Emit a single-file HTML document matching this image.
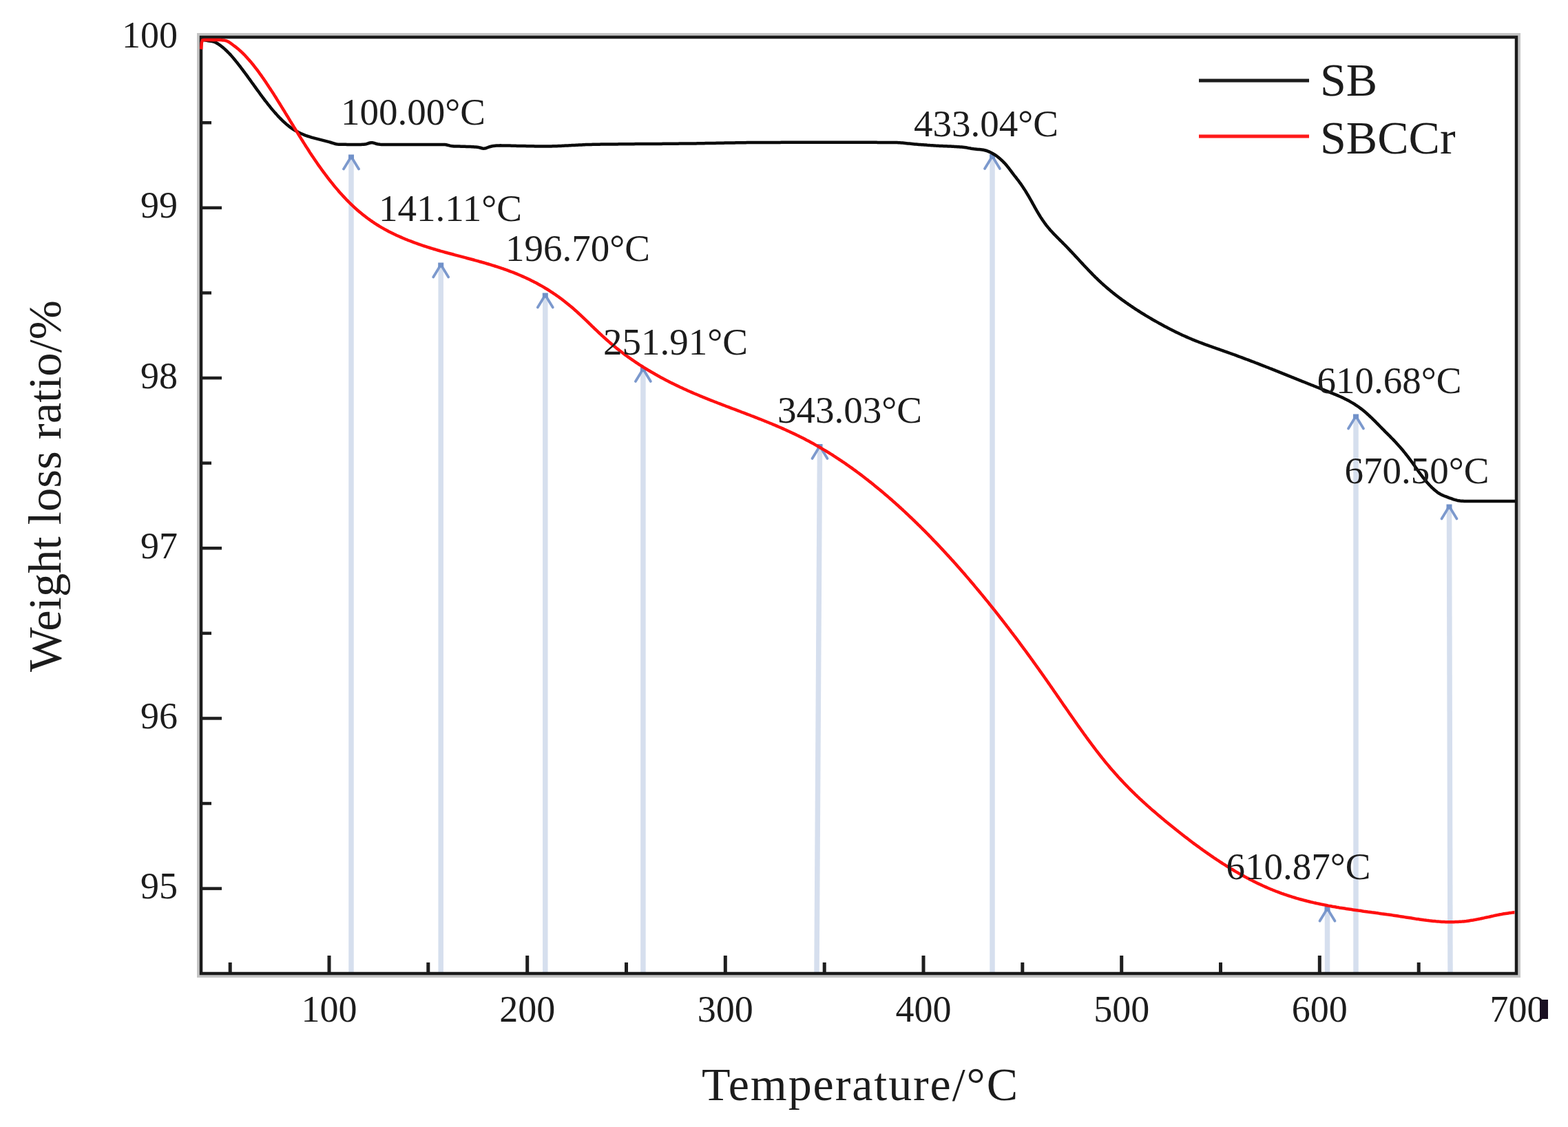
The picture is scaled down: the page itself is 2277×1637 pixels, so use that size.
<!DOCTYPE html>
<html lang="en"><head><meta charset="utf-8"><title>TG curves of SB and SBCCr</title>
<style>html,body{margin:0;padding:0;background:#fff;}body{width:2277px;height:1637px;overflow:hidden;}svg{display:block;}text{font-family:"Liberation Serif","Times New Roman",serif;fill:#1c1c1c;}</style></head><body>
<svg width="2277" height="1637" viewBox="0 0 2277 1637">
<rect width="2277" height="1637" fill="#fff"/>
<g id="arrows">
<path d="M510,230.5 L510,1412" stroke="#d6dfee" stroke-width="7.5" fill="none"/>
<path d="M499,245.5 L510,227.5 L521,245.5" stroke="#7c99cd" stroke-width="3.8" fill="none" stroke-linejoin="round" stroke-linecap="round"/>
<rect x="506" y="224.5" width="8" height="7" fill="#7191c9"/>
<path d="M640.2,387.5 L640.2,1412" stroke="#d6dfee" stroke-width="7.5" fill="none"/>
<path d="M629.2,402.5 L640.2,384.5 L651.2,402.5" stroke="#7c99cd" stroke-width="3.8" fill="none" stroke-linejoin="round" stroke-linecap="round"/>
<rect x="636.2" y="381.5" width="8" height="7" fill="#7191c9"/>
<path d="M791.8,431.5 L791.8,1412" stroke="#d6dfee" stroke-width="7.5" fill="none"/>
<path d="M780.8,446.5 L791.8,428.5 L802.8,446.5" stroke="#7c99cd" stroke-width="3.8" fill="none" stroke-linejoin="round" stroke-linecap="round"/>
<rect x="787.8" y="425.5" width="8" height="7" fill="#7191c9"/>
<path d="M933.9,539 L933.9,1412" stroke="#d6dfee" stroke-width="7.5" fill="none"/>
<path d="M922.9,554 L933.9,536 L944.9,554" stroke="#7c99cd" stroke-width="3.8" fill="none" stroke-linejoin="round" stroke-linecap="round"/>
<rect x="929.9" y="533" width="8" height="7" fill="#7191c9"/>
<path d="M1190.5,651 L1186,1412" stroke="#d6dfee" stroke-width="7.5" fill="none"/>
<path d="M1179.5,666 L1190.5,648 L1201.5,666" stroke="#7c99cd" stroke-width="3.8" fill="none" stroke-linejoin="round" stroke-linecap="round"/>
<rect x="1186.5" y="645" width="8" height="7" fill="#7191c9"/>
<path d="M1441,230 L1441,1412" stroke="#d6dfee" stroke-width="7.5" fill="none"/>
<path d="M1430,245 L1441,227 L1452,245" stroke="#7c99cd" stroke-width="3.8" fill="none" stroke-linejoin="round" stroke-linecap="round"/>
<rect x="1437" y="224" width="8" height="7" fill="#7191c9"/>
<path d="M1969,607.5 L1969,1412" stroke="#d6dfee" stroke-width="7.5" fill="none"/>
<path d="M1958,622.5 L1969,604.5 L1980,622.5" stroke="#7c99cd" stroke-width="3.8" fill="none" stroke-linejoin="round" stroke-linecap="round"/>
<rect x="1965" y="601.5" width="8" height="7" fill="#7191c9"/>
<path d="M2104.5,738.5 L2106,1412" stroke="#d6dfee" stroke-width="7.5" fill="none"/>
<path d="M2093.5,753.5 L2104.5,735.5 L2115.5,753.5" stroke="#7c99cd" stroke-width="3.8" fill="none" stroke-linejoin="round" stroke-linecap="round"/>
<rect x="2100.5" y="732.5" width="8" height="7" fill="#7191c9"/>
<path d="M1927.5,1322.7 L1927.5,1412" stroke="#d6dfee" stroke-width="7.5" fill="none"/>
<path d="M1916.5,1337.7 L1927.5,1319.7 L1938.5,1337.7" stroke="#7c99cd" stroke-width="3.8" fill="none" stroke-linejoin="round" stroke-linecap="round"/>
<rect x="1923.5" y="1316.7" width="8" height="7" fill="#7191c9"/>
</g>
<g id="ticks" fill="#1e1e1e">
<rect x="331.7" y="1398" width="5" height="16"/>
<rect x="475.5" y="1388" width="5" height="26"/>
<rect x="619.3" y="1398" width="5" height="16"/>
<rect x="763.2" y="1388" width="5" height="26"/>
<rect x="907" y="1398" width="5" height="16"/>
<rect x="1050.8" y="1388" width="5" height="26"/>
<rect x="1194.7" y="1398" width="5" height="16"/>
<rect x="1338.5" y="1388" width="5" height="26"/>
<rect x="1482.3" y="1398" width="5" height="16"/>
<rect x="1626.2" y="1388" width="5" height="26"/>
<rect x="1770" y="1398" width="5" height="16"/>
<rect x="1913.8" y="1388" width="5" height="26"/>
<rect x="2057.7" y="1398" width="5" height="16"/>
<rect x="292" y="176" width="15" height="4.5"/>
<rect x="292" y="299.6" width="30" height="4.5"/>
<rect x="292" y="423.2" width="15" height="4.5"/>
<rect x="292" y="546.8" width="30" height="4.5"/>
<rect x="292" y="670.4" width="15" height="4.5"/>
<rect x="292" y="794" width="30" height="4.5"/>
<rect x="292" y="917.6" width="15" height="4.5"/>
<rect x="292" y="1041.2" width="30" height="4.5"/>
<rect x="292" y="1164.8" width="15" height="4.5"/>
<rect x="292" y="1288.4" width="30" height="4.5"/>
</g>
<g id="frame">
<rect x="288" y="50" width="1918" height="1368" fill="none" stroke="#c4c4c4" stroke-width="4"/>
<rect x="292" y="54" width="1910" height="1360" fill="none" stroke="#1a1a1a" stroke-width="4.5"/>
</g>
<path id="sb" d="M293.9,57.7 L295.1,57.9 L296.6,58.3 L298.4,58.6 L300.3,58.9 L302.2,59.2 L304.2,59.5 L306.1,59.7 L308.1,60.1 L310,60.6 L311.9,61.2 L313.7,62 L315.4,63 L317.1,64 L318.7,65.2 L320.3,66.3 L321.9,67.6 L323.5,68.8 L325,70.1 L326.5,71.4 L328,72.8 L329.4,74.2 L330.8,75.6 L332.2,77 L333.6,78.4 L335,79.9 L336.3,81.4 L337.6,82.9 L338.9,84.4 L340.2,86 L341.5,87.5 L342.7,89.1 L344,90.6 L345.2,92.2 L346.5,93.8 L347.7,95.3 L348.9,96.9 L350.1,98.5 L351.3,100.1 L352.5,101.7 L353.7,103.3 L354.9,104.9 L356.1,106.5 L357.3,108.1 L358.5,109.7 L359.7,111.4 L360.8,113 L362,114.6 L363.2,116.2 L364.3,117.8 L365.5,119.5 L366.7,121.1 L367.9,122.7 L369,124.3 L370.2,125.9 L371.4,127.6 L372.5,129.2 L373.7,130.8 L374.9,132.4 L376.1,134 L377.3,135.7 L378.4,137.3 L379.6,138.9 L380.8,140.5 L382,142.1 L383.2,143.7 L384.4,145.3 L385.6,146.9 L386.9,148.4 L388.1,150 L389.3,151.6 L390.6,153.2 L391.8,154.7 L393.1,156.3 L394.3,157.8 L395.6,159.4 L396.9,160.9 L398.2,162.4 L399.5,163.9 L400.9,165.4 L402.2,166.9 L403.5,168.4 L404.9,169.8 L406.3,171.3 L407.7,172.7 L409.1,174.1 L410.5,175.5 L412,176.9 L413.5,178.2 L415,179.6 L416.5,180.9 L418,182.1 L419.6,183.4 L421.2,184.6 L422.8,185.8 L424.4,186.9 L426.1,188 L427.8,189 L429.5,190.1 L431.3,191 L433,192 L434.8,192.9 L436.6,193.7 L438.4,194.5 L440.3,195.3 L442.1,196.1 L444,196.8 L445.9,197.5 L447.8,198.1 L449.7,198.7 L451.6,199.3 L453.5,199.9 L455.4,200.4 L457.4,200.9 L459.3,201.4 L461.2,201.9 L463.2,202.4 L465.1,202.9 L467.1,203.4 L469,203.9 L470.9,204.4 L472.9,204.9 L474.8,205.4 L476.7,205.9 L478.7,206.4 L480.6,207 L482.5,207.6 L484.4,208.2 L486.3,208.8 L488.2,209.2 L490.2,209.5 L492.1,209.7 L494.1,209.8 L496.1,209.8 L498.1,209.8 L500.1,209.8 L502.1,209.8 L504.1,209.9 L506.1,209.9 L508.1,209.9 L510.1,209.9 L512.1,209.9 L514.1,209.9 L516.1,209.9 L518.1,209.9 L520.1,209.9 L522.1,209.9 L524.1,209.9 L526.1,209.8 L528.1,209.8 L530,209.5 L531.9,209.2 L533.7,208.6 L535.5,208 L537.3,207.5 L539,207.2 L540.8,207.3 L542.6,207.6 L544.4,208.2 L546.3,208.8 L548.2,209.3 L550.1,209.6 L552,209.8 L554,209.9 L556,209.9 L558,209.9 L560,209.9 L562,209.9 L564,209.9 L566,209.9 L568,209.9 L570,209.9 L572,209.9 L574,209.9 L576,209.9 L578,209.9 L580,209.9 L582,209.9 L584,209.9 L586,209.9 L588,209.9 L590,209.9 L592,209.9 L594,209.9 L596,209.9 L598,209.9 L600,209.9 L602,209.9 L604,209.9 L606,209.9 L608,209.9 L610,209.9 L612,209.9 L614,209.9 L616,209.9 L618,209.9 L620,209.9 L622,209.9 L624,209.9 L626,209.9 L628,209.9 L630,209.9 L632,209.9 L634,209.9 L636,209.9 L638,209.9 L640,209.9 L642,209.9 L644,210 L645.9,210.1 L647.9,210.3 L649.7,210.7 L651.6,211.1 L653.4,211.6 L655.3,212 L657.2,212.2 L659.2,212.4 L661.2,212.5 L663.2,212.5 L665.2,212.6 L667.2,212.6 L669.2,212.7 L671.2,212.7 L673.2,212.8 L675.2,212.8 L677.2,212.9 L679.2,213 L681.2,213 L683.2,213.1 L685.2,213.2 L687.2,213.3 L689.2,213.5 L691.1,213.6 L693.1,213.8 L695.1,214.1 L697,214.5 L698.8,215 L700.5,215.5 L702.3,215.7 L704,215.6 L705.7,215.2 L707.4,214.5 L709.2,213.8 L711,213.2 L712.9,212.7 L714.9,212.3 L716.8,211.9 L718.8,211.7 L720.8,211.5 L722.8,211.4 L724.8,211.4 L726.8,211.3 L728.8,211.4 L730.8,211.4 L732.8,211.4 L734.8,211.5 L736.8,211.5 L738.8,211.6 L740.8,211.6 L742.8,211.7 L744.8,211.7 L746.8,211.8 L748.8,211.8 L750.8,211.9 L752.8,211.9 L754.8,212 L756.8,212 L758.8,212.1 L760.8,212.1 L762.8,212.1 L764.8,212.2 L766.8,212.2 L768.8,212.2 L770.8,212.3 L772.8,212.3 L774.8,212.3 L776.8,212.4 L778.8,212.4 L780.8,212.4 L782.8,212.4 L784.8,212.5 L786.8,212.5 L788.8,212.5 L790.8,212.5 L792.8,212.5 L794.8,212.5 L796.8,212.5 L798.8,212.4 L800.8,212.4 L802.8,212.3 L804.8,212.3 L806.8,212.2 L808.8,212.2 L810.8,212.1 L812.8,212 L814.8,211.9 L816.7,211.8 L818.7,211.7 L820.7,211.6 L822.7,211.5 L824.7,211.4 L826.7,211.3 L828.7,211.2 L830.7,211.1 L832.7,211 L834.7,210.9 L836.7,210.8 L838.7,210.7 L840.7,210.6 L842.7,210.5 L844.7,210.4 L846.7,210.3 L848.7,210.2 L850.7,210.1 L852.7,210.1 L854.7,210 L856.7,209.9 L858.7,209.9 L860.7,209.8 L862.7,209.8 L864.7,209.8 L866.7,209.7 L868.7,209.7 L870.7,209.7 L872.7,209.6 L874.7,209.6 L876.7,209.6 L878.7,209.6 L880.7,209.5 L882.7,209.5 L884.7,209.5 L886.7,209.5 L888.7,209.4 L890.7,209.4 L892.7,209.4 L894.7,209.4 L896.7,209.4 L898.7,209.3 L900.7,209.3 L902.7,209.3 L904.7,209.3 L906.7,209.3 L908.7,209.2 L910.7,209.2 L912.7,209.2 L914.7,209.2 L916.7,209.2 L918.7,209.2 L920.7,209.2 L922.7,209.1 L924.7,209.1 L926.7,209.1 L928.7,209.1 L930.7,209.1 L932.7,209.1 L934.7,209 L936.7,209 L938.7,209 L940.7,209 L942.7,209 L944.7,209 L946.7,209 L948.7,208.9 L950.7,208.9 L952.7,208.9 L954.7,208.9 L956.7,208.9 L958.7,208.9 L960.7,208.9 L962.7,208.8 L964.7,208.8 L966.7,208.8 L968.7,208.8 L970.7,208.8 L972.7,208.8 L974.7,208.8 L976.7,208.7 L978.7,208.7 L980.7,208.7 L982.7,208.7 L984.7,208.7 L986.7,208.6 L988.7,208.6 L990.7,208.6 L992.7,208.6 L994.7,208.6 L996.7,208.5 L998.7,208.5 L1000.7,208.5 L1002.7,208.5 L1004.7,208.4 L1006.7,208.4 L1008.7,208.4 L1010.7,208.4 L1012.7,208.3 L1014.7,208.3 L1016.7,208.3 L1018.7,208.2 L1020.7,208.2 L1022.7,208.2 L1024.7,208.1 L1026.7,208.1 L1028.7,208.1 L1030.7,208 L1032.7,208 L1034.7,207.9 L1036.7,207.9 L1038.7,207.9 L1040.7,207.8 L1042.7,207.8 L1044.7,207.8 L1046.7,207.7 L1048.7,207.7 L1050.7,207.7 L1052.7,207.6 L1054.7,207.6 L1056.7,207.5 L1058.7,207.5 L1060.7,207.5 L1062.7,207.4 L1064.7,207.4 L1066.7,207.4 L1068.7,207.3 L1070.7,207.3 L1072.7,207.3 L1074.7,207.3 L1076.7,207.2 L1078.7,207.2 L1080.7,207.2 L1082.7,207.2 L1084.7,207.1 L1086.7,207.1 L1088.7,207.1 L1090.7,207.1 L1092.7,207.1 L1094.7,207 L1096.7,207 L1098.7,207 L1100.7,207 L1102.7,207 L1104.7,207 L1106.7,207 L1108.7,207 L1110.7,206.9 L1112.7,206.9 L1114.7,206.9 L1116.7,206.9 L1118.7,206.9 L1120.7,206.9 L1122.7,206.9 L1124.7,206.9 L1126.7,206.9 L1128.7,206.9 L1130.7,206.9 L1132.7,206.9 L1134.7,206.8 L1136.7,206.8 L1138.7,206.8 L1140.7,206.8 L1142.7,206.8 L1144.7,206.8 L1146.7,206.8 L1148.7,206.8 L1150.7,206.8 L1152.7,206.8 L1154.7,206.8 L1156.7,206.8 L1158.7,206.8 L1160.7,206.8 L1162.7,206.8 L1164.7,206.7 L1166.7,206.7 L1168.7,206.7 L1170.7,206.7 L1172.7,206.7 L1174.7,206.7 L1176.7,206.7 L1178.7,206.7 L1180.7,206.7 L1182.7,206.7 L1184.7,206.7 L1186.7,206.7 L1188.7,206.7 L1190.7,206.7 L1192.7,206.7 L1194.7,206.7 L1196.7,206.7 L1198.7,206.7 L1200.7,206.7 L1202.7,206.7 L1204.7,206.7 L1206.7,206.7 L1208.7,206.7 L1210.7,206.7 L1212.7,206.7 L1214.7,206.7 L1216.7,206.7 L1218.7,206.7 L1220.7,206.7 L1222.7,206.7 L1224.7,206.7 L1226.7,206.7 L1228.7,206.7 L1230.7,206.7 L1232.7,206.7 L1234.7,206.7 L1236.7,206.7 L1238.7,206.7 L1240.7,206.7 L1242.7,206.7 L1244.7,206.7 L1246.7,206.8 L1248.7,206.8 L1250.7,206.8 L1252.7,206.8 L1254.7,206.8 L1256.7,206.8 L1258.7,206.8 L1260.7,206.8 L1262.7,206.8 L1264.7,206.8 L1266.7,206.8 L1268.7,206.8 L1270.7,206.8 L1272.7,206.8 L1274.7,206.9 L1276.7,206.9 L1278.7,206.9 L1280.7,206.9 L1282.7,206.9 L1284.7,206.9 L1286.7,206.9 L1288.7,206.9 L1290.7,206.9 L1292.7,207 L1294.7,207 L1296.7,207 L1298.7,207 L1300.7,207.1 L1302.7,207.1 L1304.7,207.2 L1306.7,207.3 L1308.7,207.4 L1310.7,207.6 L1312.7,207.8 L1314.6,208 L1316.6,208.2 L1318.6,208.4 L1320.6,208.6 L1322.6,208.8 L1324.6,209 L1326.6,209.2 L1328.6,209.4 L1330.6,209.5 L1332.6,209.7 L1334.6,209.9 L1336.5,210 L1338.5,210.2 L1340.5,210.3 L1342.5,210.5 L1344.5,210.6 L1346.5,210.8 L1348.5,210.9 L1350.5,211.1 L1352.5,211.2 L1354.5,211.3 L1356.5,211.4 L1358.5,211.6 L1360.5,211.7 L1362.5,211.8 L1364.5,211.9 L1366.5,212 L1368.5,212.1 L1370.5,212.2 L1372.5,212.2 L1374.5,212.3 L1376.5,212.4 L1378.5,212.5 L1380.5,212.6 L1382.5,212.7 L1384.5,212.8 L1386.5,212.9 L1388.5,213 L1390.5,213.2 L1392.4,213.3 L1394.4,213.5 L1396.4,213.6 L1398.4,213.8 L1400.4,214 L1402.4,214.3 L1404.4,214.6 L1406.3,215 L1408.3,215.3 L1410.3,215.7 L1412.2,216 L1414.2,216.3 L1416.2,216.5 L1418.2,216.7 L1420.2,216.9 L1422.2,217.1 L1424.2,217.3 L1426.1,217.5 L1428.1,217.8 L1430,218.2 L1432,218.7 L1433.8,219.4 L1435.7,220.1 L1437.5,220.9 L1439.3,221.8 L1441.1,222.7 L1442.8,223.7 L1444.5,224.7 L1446.2,225.8 L1447.8,227 L1449.4,228.2 L1450.9,229.5 L1452.5,230.8 L1453.9,232.1 L1455.4,233.5 L1456.8,234.9 L1458.2,236.3 L1459.6,237.8 L1460.9,239.3 L1462.2,240.8 L1463.4,242.3 L1464.7,243.9 L1465.9,245.5 L1467.1,247.1 L1468.3,248.7 L1469.5,250.3 L1470.7,251.9 L1471.9,253.5 L1473.1,255.1 L1474.4,256.6 L1475.6,258.2 L1476.8,259.8 L1478.1,261.4 L1479.3,263 L1480.4,264.6 L1481.6,266.2 L1482.8,267.8 L1483.9,269.5 L1485,271.1 L1486.1,272.8 L1487.2,274.5 L1488.3,276.1 L1489.4,277.8 L1490.4,279.5 L1491.5,281.3 L1492.5,283 L1493.5,284.7 L1494.5,286.4 L1495.5,288.2 L1496.5,289.9 L1497.5,291.6 L1498.5,293.4 L1499.4,295.1 L1500.4,296.9 L1501.4,298.6 L1502.3,300.4 L1503.3,302.1 L1504.3,303.8 L1505.3,305.6 L1506.3,307.3 L1507.3,309 L1508.3,310.8 L1509.4,312.5 L1510.4,314.2 L1511.5,315.9 L1512.6,317.5 L1513.7,319.2 L1514.8,320.8 L1516,322.5 L1517.1,324.1 L1518.3,325.7 L1519.5,327.3 L1520.8,328.9 L1522,330.4 L1523.3,331.9 L1524.6,333.5 L1525.9,335 L1527.3,336.4 L1528.6,337.9 L1530,339.4 L1531.4,340.8 L1532.8,342.2 L1534.2,343.7 L1535.6,345.1 L1537,346.5 L1538.4,347.9 L1539.8,349.3 L1541.2,350.7 L1542.7,352.1 L1544.1,353.6 L1545.5,355 L1546.9,356.4 L1548.3,357.8 L1549.7,359.3 L1551.1,360.7 L1552.4,362.2 L1553.8,363.6 L1555.2,365.1 L1556.6,366.5 L1557.9,368 L1559.3,369.4 L1560.6,370.9 L1562,372.4 L1563.4,373.8 L1564.7,375.3 L1566.1,376.8 L1567.4,378.2 L1568.8,379.7 L1570.2,381.2 L1571.5,382.6 L1572.9,384.1 L1574.2,385.6 L1575.6,387 L1577,388.5 L1578.4,389.9 L1579.7,391.4 L1581.1,392.8 L1582.5,394.3 L1583.9,395.7 L1585.3,397.1 L1586.7,398.6 L1588.1,400 L1589.5,401.4 L1590.9,402.8 L1592.4,404.2 L1593.8,405.6 L1595.2,407 L1596.7,408.4 L1598.1,409.7 L1599.6,411.1 L1601.1,412.4 L1602.6,413.8 L1604.1,415.1 L1605.6,416.4 L1607.1,417.7 L1608.6,419 L1610.1,420.3 L1611.7,421.6 L1613.2,422.9 L1614.8,424.1 L1616.3,425.4 L1617.9,426.6 L1619.5,427.9 L1621,429.1 L1622.6,430.3 L1624.2,431.5 L1625.8,432.7 L1627.4,433.9 L1629,435.1 L1630.7,436.3 L1632.3,437.4 L1633.9,438.6 L1635.5,439.8 L1637.2,440.9 L1638.8,442.1 L1640.5,443.2 L1642.1,444.3 L1643.8,445.4 L1645.4,446.6 L1647.1,447.7 L1648.8,448.8 L1650.4,449.9 L1652.1,450.9 L1653.8,452 L1655.5,453.1 L1657.2,454.2 L1658.9,455.2 L1660.6,456.3 L1662.3,457.3 L1664,458.4 L1665.7,459.4 L1667.4,460.4 L1669.1,461.4 L1670.9,462.4 L1672.6,463.5 L1674.3,464.5 L1676.1,465.5 L1677.8,466.4 L1679.5,467.4 L1681.3,468.4 L1683,469.4 L1684.8,470.3 L1686.5,471.3 L1688.3,472.3 L1690,473.2 L1691.8,474.2 L1693.6,475.1 L1695.3,476 L1697.1,476.9 L1698.9,477.9 L1700.7,478.8 L1702.5,479.7 L1704.2,480.6 L1706,481.5 L1707.8,482.4 L1709.6,483.2 L1711.4,484.1 L1713.2,485 L1715,485.8 L1716.8,486.7 L1718.7,487.5 L1720.5,488.3 L1722.3,489.1 L1724.1,489.9 L1726,490.7 L1727.8,491.5 L1729.7,492.3 L1731.5,493.1 L1733.4,493.8 L1735.2,494.6 L1737.1,495.3 L1738.9,496 L1740.8,496.8 L1742.7,497.5 L1744.5,498.2 L1746.4,498.9 L1748.3,499.6 L1750.2,500.3 L1752,501 L1753.9,501.6 L1755.8,502.3 L1757.7,503 L1759.6,503.7 L1761.4,504.3 L1763.3,505 L1765.2,505.7 L1767.1,506.3 L1769,507 L1770.9,507.6 L1772.8,508.3 L1774.7,509 L1776.5,509.6 L1778.4,510.3 L1780.3,511 L1782.2,511.6 L1784.1,512.3 L1786,513 L1787.8,513.7 L1789.7,514.3 L1791.6,515 L1793.5,515.7 L1795.4,516.4 L1797.2,517.1 L1799.1,517.8 L1801,518.5 L1802.9,519.2 L1804.7,519.9 L1806.6,520.6 L1808.5,521.3 L1810.4,522 L1812.2,522.7 L1814.1,523.4 L1816,524.1 L1817.8,524.8 L1819.7,525.5 L1821.6,526.2 L1823.4,527 L1825.3,527.7 L1827.2,528.4 L1829,529.1 L1830.9,529.9 L1832.8,530.6 L1834.6,531.3 L1836.5,532 L1838.3,532.8 L1840.2,533.5 L1842.1,534.2 L1843.9,535 L1845.8,535.7 L1847.6,536.4 L1849.5,537.2 L1851.4,537.9 L1853.2,538.7 L1855.1,539.4 L1856.9,540.1 L1858.8,540.9 L1860.7,541.6 L1862.5,542.4 L1864.4,543.1 L1866.2,543.9 L1868.1,544.6 L1869.9,545.4 L1871.8,546.1 L1873.6,546.8 L1875.5,547.6 L1877.4,548.3 L1879.2,549.1 L1881.1,549.8 L1882.9,550.6 L1884.8,551.3 L1886.6,552.1 L1888.5,552.8 L1890.3,553.6 L1892.2,554.3 L1894.1,555 L1895.9,555.8 L1897.8,556.5 L1899.6,557.3 L1901.5,558 L1903.3,558.8 L1905.2,559.5 L1907.1,560.2 L1908.9,561 L1910.8,561.7 L1912.6,562.5 L1914.5,563.2 L1916.4,563.9 L1918.2,564.7 L1920.1,565.4 L1921.9,566.1 L1923.8,566.9 L1925.7,567.6 L1927.5,568.3 L1929.4,569.1 L1931.2,569.8 L1933.1,570.6 L1934.9,571.3 L1936.8,572.1 L1938.6,572.8 L1940.5,573.6 L1942.3,574.4 L1944.2,575.2 L1946,576 L1947.8,576.8 L1949.6,577.6 L1951.4,578.5 L1953.2,579.4 L1955,580.3 L1956.8,581.2 L1958.5,582.1 L1960.3,583.1 L1962,584.1 L1963.8,585.1 L1965.5,586.1 L1967.2,587.2 L1968.8,588.3 L1970.5,589.4 L1972.1,590.5 L1973.8,591.7 L1975.4,592.9 L1977,594.1 L1978.5,595.3 L1980.1,596.6 L1981.6,597.8 L1983.1,599.1 L1984.7,600.4 L1986.1,601.8 L1987.6,603.1 L1989.1,604.5 L1990.5,605.8 L1992,607.2 L1993.4,608.6 L1994.8,610 L1996.3,611.4 L1997.7,612.8 L1999.1,614.3 L2000.5,615.7 L2001.9,617.1 L2003.3,618.5 L2004.7,620 L2006.1,621.4 L2007.5,622.8 L2008.9,624.2 L2010.3,625.6 L2011.7,627.1 L2013.1,628.5 L2014.6,629.9 L2016,631.3 L2017.4,632.7 L2018.8,634.1 L2020.2,635.6 L2021.6,637 L2023,638.4 L2024.4,639.9 L2025.7,641.3 L2027.1,642.8 L2028.4,644.3 L2029.8,645.8 L2031.1,647.2 L2032.5,648.7 L2033.8,650.3 L2035.1,651.8 L2036.4,653.3 L2037.7,654.8 L2038.9,656.4 L2040.2,657.9 L2041.4,659.5 L2042.7,661.1 L2043.9,662.6 L2045.1,664.2 L2046.3,665.8 L2047.5,667.4 L2048.7,669 L2049.9,670.6 L2051.1,672.2 L2052.3,673.9 L2053.4,675.5 L2054.6,677.1 L2055.7,678.8 L2056.9,680.4 L2058,682 L2059.2,683.7 L2060.3,685.3 L2061.5,686.9 L2062.7,688.5 L2063.9,690.1 L2065.1,691.7 L2066.3,693.3 L2067.6,694.9 L2068.8,696.4 L2070.1,698 L2071.3,699.5 L2072.6,701 L2074,702.5 L2075.3,704 L2076.7,705.5 L2078.1,706.9 L2079.5,708.3 L2081,709.7 L2082.4,711 L2083.9,712.3 L2085.5,713.6 L2087,714.8 L2088.7,716 L2090.4,717.1 L2092.1,718 L2093.9,718.9 L2095.7,719.7 L2097.5,720.5 L2099.4,721.2 L2101.3,721.9 L2103.1,722.6 L2105,723.3 L2106.9,723.9 L2108.8,724.6 L2110.7,725.3 L2112.6,725.9 L2114.5,726.4 L2116.4,726.9 L2118.4,727.2 L2120.4,727.5 L2122.3,727.7 L2124.3,727.8 L2126.3,727.9 L2128.3,727.9 L2130.3,728 L2132.3,728 L2134.3,728 L2136.3,728 L2138.3,728 L2140.3,728 L2142.3,728 L2144.3,728 L2146.3,728 L2148.3,728 L2150.3,728 L2152.3,728 L2154.3,728 L2156.3,728 L2158.3,728 L2160.3,728 L2162.3,728 L2164.3,728 L2166.3,728 L2168.3,728 L2170.3,728 L2172.3,728 L2174.3,728 L2176.3,728 L2178.3,728 L2180.3,728 L2182.3,728 L2184.3,728 L2186.3,728 L2188.3,728 L2190.3,728 L2192.3,728 L2194.3,728 L2196.2,728 L2197.9,728 L2199.4,728 L2200.6,728" fill="none" stroke="#0c0c0c" stroke-width="4.5" stroke-linejoin="round"/>
<path id="sbccr" d="M292.2,71.5 L292.8,62 L294,58.5 L295.6,58 L296.8,58 L298.3,58 L300.1,58 L302,58 L304,58 L306,58 L308,58 L310,58 L312,58 L314,58 L316,58 L318,58.1 L320,58.1 L322,58.2 L324,58.4 L325.9,58.6 L327.8,59.1 L329.7,59.7 L331.4,60.5 L333.1,61.5 L334.7,62.6 L336.3,63.8 L337.9,65 L339.5,66.2 L341.1,67.4 L342.7,68.6 L344.3,69.9 L345.8,71.1 L347.3,72.4 L348.8,73.8 L350.3,75.1 L351.7,76.5 L353.2,77.9 L354.6,79.3 L356,80.8 L357.3,82.2 L358.7,83.7 L360,85.2 L361.4,86.7 L362.7,88.2 L364,89.7 L365.2,91.2 L366.5,92.8 L367.8,94.3 L369,95.9 L370.2,97.5 L371.5,99.1 L372.7,100.6 L373.9,102.2 L375.1,103.8 L376.3,105.5 L377.4,107.1 L378.6,108.7 L379.8,110.3 L380.9,112 L382.1,113.6 L383.2,115.2 L384.3,116.9 L385.5,118.5 L386.6,120.2 L387.7,121.9 L388.8,123.5 L389.9,125.2 L391,126.9 L392.1,128.5 L393.2,130.2 L394.3,131.9 L395.4,133.6 L396.5,135.2 L397.6,136.9 L398.6,138.6 L399.7,140.3 L400.8,142 L401.8,143.7 L402.9,145.4 L403.9,147.1 L405,148.8 L406.1,150.5 L407.1,152.2 L408.2,153.9 L409.2,155.6 L410.3,157.3 L411.3,159 L412.4,160.7 L413.4,162.4 L414.4,164.1 L415.5,165.8 L416.5,167.5 L417.6,169.2 L418.6,170.9 L419.6,172.6 L420.7,174.4 L421.7,176.1 L422.8,177.8 L423.8,179.5 L424.9,181.2 L425.9,182.9 L426.9,184.6 L428,186.3 L429,188 L430.1,189.7 L431.1,191.4 L432.2,193.1 L433.2,194.8 L434.3,196.5 L435.3,198.2 L436.4,199.9 L437.4,201.6 L438.5,203.3 L439.6,205 L440.6,206.7 L441.7,208.4 L442.8,210.1 L443.8,211.8 L444.9,213.5 L446,215.1 L447.1,216.8 L448.2,218.5 L449.2,220.2 L450.3,221.9 L451.4,223.5 L452.5,225.2 L453.6,226.9 L454.8,228.5 L455.9,230.2 L457,231.8 L458.1,233.5 L459.3,235.1 L460.4,236.8 L461.5,238.4 L462.7,240.1 L463.8,241.7 L465,243.3 L466.2,245 L467.3,246.6 L468.5,248.2 L469.7,249.8 L470.9,251.4 L472.1,253 L473.3,254.6 L474.5,256.2 L475.7,257.8 L476.9,259.4 L478.1,261 L479.4,262.5 L480.6,264.1 L481.9,265.7 L483.1,267.2 L484.4,268.8 L485.6,270.3 L486.9,271.9 L488.2,273.4 L489.5,274.9 L490.8,276.4 L492.1,278 L493.4,279.5 L494.8,281 L496.1,282.4 L497.4,283.9 L498.8,285.4 L500.2,286.9 L501.5,288.3 L502.9,289.8 L504.3,291.2 L505.7,292.6 L507.1,294 L508.5,295.4 L510,296.8 L511.4,298.2 L512.9,299.6 L514.3,300.9 L515.8,302.3 L517.3,303.6 L518.8,305 L520.3,306.3 L521.8,307.6 L523.4,308.8 L524.9,310.1 L526.5,311.4 L528,312.6 L529.6,313.8 L531.2,315.1 L532.8,316.3 L534.4,317.5 L536,318.6 L537.6,319.8 L539.3,320.9 L540.9,322.1 L542.6,323.2 L544.2,324.3 L545.9,325.4 L547.6,326.5 L549.3,327.5 L551,328.6 L552.7,329.6 L554.4,330.6 L556.2,331.6 L557.9,332.6 L559.6,333.6 L561.4,334.5 L563.2,335.5 L564.9,336.4 L566.7,337.3 L568.5,338.2 L570.3,339.1 L572.1,340 L573.9,340.8 L575.7,341.7 L577.5,342.5 L579.3,343.3 L581.2,344.1 L583,344.9 L584.8,345.7 L586.7,346.5 L588.5,347.3 L590.4,348 L592.2,348.8 L594.1,349.5 L596,350.2 L597.8,350.9 L599.7,351.6 L601.6,352.3 L603.5,353 L605.3,353.7 L607.2,354.4 L609.1,355 L611,355.7 L612.9,356.3 L614.8,357 L616.7,357.6 L618.6,358.2 L620.5,358.8 L622.4,359.4 L624.3,360 L626.2,360.6 L628.1,361.2 L630,361.8 L632,362.3 L633.9,362.9 L635.8,363.5 L637.7,364 L639.6,364.6 L641.6,365.1 L643.5,365.6 L645.4,366.2 L647.4,366.7 L649.3,367.2 L651.2,367.8 L653.1,368.3 L655.1,368.8 L657,369.3 L658.9,369.8 L660.9,370.4 L662.8,370.9 L664.7,371.4 L666.7,371.9 L668.6,372.4 L670.5,372.9 L672.5,373.4 L674.4,373.9 L676.3,374.4 L678.3,375 L680.2,375.5 L682.1,376 L684.1,376.5 L686,377 L687.9,377.5 L689.9,378.1 L691.8,378.6 L693.7,379.1 L695.6,379.7 L697.6,380.2 L699.5,380.7 L701.4,381.3 L703.3,381.8 L705.3,382.4 L707.2,383 L709.1,383.5 L711,384.1 L712.9,384.7 L714.8,385.3 L716.8,385.9 L718.7,386.5 L720.6,387.1 L722.5,387.7 L724.4,388.3 L726.3,388.9 L728.2,389.6 L730.1,390.2 L731.9,390.9 L733.8,391.5 L735.7,392.2 L737.6,392.9 L739.5,393.6 L741.3,394.3 L743.2,395 L745.1,395.7 L746.9,396.4 L748.8,397.2 L750.6,397.9 L752.5,398.7 L754.3,399.5 L756.2,400.3 L758,401.1 L759.8,401.9 L761.7,402.7 L763.5,403.5 L765.3,404.4 L767.1,405.2 L768.9,406.1 L770.7,407 L772.5,407.9 L774.3,408.8 L776,409.7 L777.8,410.6 L779.6,411.5 L781.3,412.5 L783.1,413.5 L784.8,414.4 L786.6,415.4 L788.3,416.4 L790,417.4 L791.7,418.5 L793.5,419.5 L795.2,420.5 L796.9,421.6 L798.5,422.7 L800.2,423.8 L801.9,424.9 L803.6,426 L805.2,427.1 L806.9,428.2 L808.5,429.4 L810.1,430.5 L811.8,431.7 L813.4,432.9 L815,434 L816.6,435.2 L818.2,436.5 L819.8,437.7 L821.3,438.9 L822.9,440.2 L824.4,441.4 L826,442.7 L827.5,444 L829.1,445.2 L830.6,446.5 L832.1,447.8 L833.6,449.1 L835.1,450.5 L836.6,451.8 L838.1,453.1 L839.6,454.5 L841,455.8 L842.5,457.2 L844,458.6 L845.4,459.9 L846.9,461.3 L848.3,462.7 L849.8,464.1 L851.2,465.4 L852.7,466.8 L854.1,468.2 L855.5,469.6 L857,471 L858.4,472.4 L859.8,473.8 L861.3,475.2 L862.7,476.6 L864.2,478 L865.6,479.3 L867.1,480.7 L868.5,482.1 L870,483.5 L871.4,484.8 L872.9,486.2 L874.3,487.6 L875.8,488.9 L877.3,490.3 L878.8,491.6 L880.3,493 L881.8,494.3 L883.3,495.6 L884.8,496.9 L886.3,498.2 L887.8,499.5 L889.3,500.8 L890.9,502.1 L892.4,503.3 L894,504.6 L895.5,505.9 L897.1,507.1 L898.7,508.3 L900.2,509.6 L901.8,510.8 L903.4,512 L905,513.2 L906.6,514.4 L908.2,515.6 L909.8,516.8 L911.4,518 L913.1,519.1 L914.7,520.3 L916.3,521.4 L918,522.6 L919.6,523.7 L921.3,524.8 L922.9,526 L924.6,527.1 L926.3,528.2 L927.9,529.3 L929.6,530.4 L931.3,531.4 L933,532.5 L934.7,533.6 L936.4,534.6 L938.1,535.7 L939.8,536.7 L941.5,537.8 L943.2,538.8 L944.9,539.8 L946.6,540.8 L948.4,541.8 L950.1,542.8 L951.8,543.8 L953.6,544.8 L955.3,545.8 L957.1,546.8 L958.8,547.7 L960.6,548.7 L962.3,549.6 L964.1,550.6 L965.9,551.5 L967.7,552.4 L969.4,553.3 L971.2,554.2 L973,555.2 L974.8,556.1 L976.6,556.9 L978.4,557.8 L980.2,558.7 L982,559.6 L983.8,560.4 L985.6,561.3 L987.4,562.2 L989.2,563 L991,563.8 L992.8,564.7 L994.6,565.5 L996.5,566.3 L998.3,567.2 L1000.1,568 L1001.9,568.8 L1003.8,569.6 L1005.6,570.4 L1007.4,571.2 L1009.3,572 L1011.1,572.7 L1013,573.5 L1014.8,574.3 L1016.7,575.1 L1018.5,575.8 L1020.4,576.6 L1022.2,577.3 L1024.1,578.1 L1025.9,578.8 L1027.8,579.6 L1029.6,580.3 L1031.5,581.1 L1033.3,581.8 L1035.2,582.5 L1037.1,583.3 L1038.9,584 L1040.8,584.7 L1042.7,585.5 L1044.5,586.2 L1046.4,586.9 L1048.3,587.6 L1050.1,588.3 L1052,589 L1053.9,589.8 L1055.7,590.5 L1057.6,591.2 L1059.5,591.9 L1061.3,592.6 L1063.2,593.3 L1065.1,594 L1066.9,594.7 L1068.8,595.4 L1070.7,596.1 L1072.6,596.8 L1074.4,597.5 L1076.3,598.3 L1078.2,599 L1080,599.7 L1081.9,600.4 L1083.8,601.1 L1085.6,601.8 L1087.5,602.5 L1089.4,603.2 L1091.2,604 L1093.1,604.7 L1095,605.4 L1096.8,606.1 L1098.7,606.8 L1100.6,607.6 L1102.4,608.3 L1104.3,609 L1106.2,609.8 L1108,610.5 L1109.9,611.3 L1111.7,612 L1113.6,612.8 L1115.4,613.5 L1117.3,614.3 L1119.1,615 L1121,615.8 L1122.8,616.6 L1124.7,617.3 L1126.5,618.1 L1128.3,618.9 L1130.2,619.7 L1132,620.5 L1133.9,621.3 L1135.7,622.1 L1137.5,622.9 L1139.3,623.7 L1141.2,624.5 L1143,625.4 L1144.8,626.2 L1146.6,627 L1148.4,627.9 L1150.2,628.7 L1152.1,629.6 L1153.9,630.4 L1155.7,631.3 L1157.5,632.2 L1159.3,633 L1161,633.9 L1162.8,634.8 L1164.6,635.7 L1166.4,636.6 L1168.2,637.5 L1170,638.5 L1171.7,639.4 L1173.5,640.3 L1175.3,641.3 L1177,642.2 L1178.8,643.2 L1180.5,644.1 L1182.3,645.1 L1184,646.1 L1185.8,647.1 L1187.5,648 L1189.2,649 L1191,650 L1192.7,651.1 L1194.4,652.1 L1196.1,653.1 L1197.9,654.1 L1199.6,655.2 L1201.3,656.2 L1203,657.3 L1204.7,658.3 L1206.4,659.4 L1208.1,660.4 L1209.8,661.5 L1211.4,662.6 L1213.1,663.7 L1214.8,664.8 L1216.5,665.9 L1218.1,667 L1219.8,668.1 L1221.5,669.2 L1223.1,670.3 L1224.8,671.4 L1226.4,672.5 L1228.1,673.7 L1229.7,674.8 L1231.4,676 L1233,677.1 L1234.6,678.3 L1236.3,679.4 L1237.9,680.6 L1239.5,681.8 L1241.1,682.9 L1242.7,684.1 L1244.3,685.3 L1245.9,686.5 L1247.6,687.7 L1249.2,688.9 L1250.8,690.1 L1252.3,691.3 L1253.9,692.5 L1255.5,693.7 L1257.1,695 L1258.7,696.2 L1260.3,697.4 L1261.8,698.7 L1263.4,699.9 L1265,701.1 L1266.5,702.4 L1268.1,703.6 L1269.6,704.9 L1271.2,706.2 L1272.7,707.4 L1274.3,708.7 L1275.8,710 L1277.4,711.2 L1278.9,712.5 L1280.4,713.8 L1282,715.1 L1283.5,716.4 L1285,717.7 L1286.5,719 L1288.1,720.3 L1289.6,721.6 L1291.1,722.9 L1292.6,724.2 L1294.1,725.5 L1295.6,726.8 L1297.1,728.2 L1298.6,729.5 L1300.1,730.8 L1301.6,732.2 L1303.1,733.5 L1304.6,734.8 L1306,736.2 L1307.5,737.5 L1309,738.9 L1310.5,740.2 L1311.9,741.6 L1313.4,742.9 L1314.9,744.3 L1316.3,745.7 L1317.8,747 L1319.2,748.4 L1320.7,749.8 L1322.1,751.2 L1323.6,752.5 L1325,753.9 L1326.5,755.3 L1327.9,756.7 L1329.3,758.1 L1330.8,759.5 L1332.2,760.9 L1333.6,762.3 L1335.1,763.7 L1336.5,765.1 L1337.9,766.5 L1339.3,767.9 L1340.7,769.3 L1342.1,770.7 L1343.6,772.2 L1345,773.6 L1346.4,775 L1347.8,776.4 L1349.2,777.9 L1350.6,779.3 L1352,780.7 L1353.4,782.2 L1354.7,783.6 L1356.1,785.1 L1357.5,786.5 L1358.9,787.9 L1360.3,789.4 L1361.7,790.8 L1363,792.3 L1364.4,793.7 L1365.8,795.2 L1367.1,796.7 L1368.5,798.1 L1369.9,799.6 L1371.2,801.1 L1372.6,802.5 L1373.9,804 L1375.3,805.5 L1376.6,806.9 L1378,808.4 L1379.3,809.9 L1380.7,811.4 L1382,812.9 L1383.4,814.3 L1384.7,815.8 L1386,817.3 L1387.4,818.8 L1388.7,820.3 L1390,821.8 L1391.3,823.3 L1392.7,824.8 L1394,826.3 L1395.3,827.8 L1396.6,829.3 L1397.9,830.8 L1399.3,832.3 L1400.6,833.8 L1401.9,835.3 L1403.2,836.9 L1404.5,838.4 L1405.8,839.9 L1407.1,841.4 L1408.4,842.9 L1409.7,844.5 L1411,846 L1412.3,847.5 L1413.6,849 L1414.9,850.6 L1416.1,852.1 L1417.4,853.6 L1418.7,855.2 L1420,856.7 L1421.3,858.2 L1422.5,859.8 L1423.8,861.3 L1425.1,862.9 L1426.4,864.4 L1427.6,865.9 L1428.9,867.5 L1430.2,869 L1431.4,870.6 L1432.7,872.1 L1434,873.7 L1435.2,875.2 L1436.5,876.8 L1437.7,878.4 L1439,879.9 L1440.2,881.5 L1441.5,883 L1442.7,884.6 L1444,886.2 L1445.2,887.7 L1446.5,889.3 L1447.7,890.9 L1448.9,892.4 L1450.2,894 L1451.4,895.6 L1452.6,897.2 L1453.9,898.7 L1455.1,900.3 L1456.3,901.9 L1457.6,903.5 L1458.8,905.1 L1460,906.6 L1461.2,908.2 L1462.4,909.8 L1463.7,911.4 L1464.9,913 L1466.1,914.6 L1467.3,916.2 L1468.5,917.8 L1469.7,919.3 L1470.9,920.9 L1472.1,922.5 L1473.3,924.1 L1474.6,925.7 L1475.8,927.3 L1477,928.9 L1478.2,930.5 L1479.4,932.1 L1480.5,933.7 L1481.7,935.3 L1482.9,936.9 L1484.1,938.6 L1485.3,940.2 L1486.5,941.8 L1487.7,943.4 L1488.9,945 L1490.1,946.6 L1491.2,948.2 L1492.4,949.8 L1493.6,951.4 L1494.8,953.1 L1496,954.7 L1497.1,956.3 L1498.3,957.9 L1499.5,959.5 L1500.6,961.2 L1501.8,962.8 L1503,964.4 L1504.1,966 L1505.3,967.7 L1506.5,969.3 L1507.6,970.9 L1508.8,972.5 L1509.9,974.2 L1511.1,975.8 L1512.3,977.4 L1513.4,979.1 L1514.6,980.7 L1515.7,982.3 L1516.9,984 L1518,985.6 L1519.2,987.2 L1520.3,988.9 L1521.5,990.5 L1522.6,992.2 L1523.8,993.8 L1524.9,995.4 L1526,997.1 L1527.2,998.7 L1528.3,1000.4 L1529.5,1002 L1530.6,1003.7 L1531.7,1005.3 L1532.9,1007 L1534,1008.6 L1535.1,1010.2 L1536.3,1011.9 L1537.4,1013.5 L1538.6,1015.2 L1539.7,1016.8 L1540.8,1018.5 L1542,1020.1 L1543.1,1021.8 L1544.2,1023.4 L1545.4,1025.1 L1546.5,1026.7 L1547.7,1028.3 L1548.8,1030 L1549.9,1031.6 L1551.1,1033.3 L1552.2,1034.9 L1553.3,1036.6 L1554.5,1038.2 L1555.6,1039.8 L1556.8,1041.5 L1557.9,1043.1 L1559.1,1044.8 L1560.2,1046.4 L1561.4,1048 L1562.5,1049.7 L1563.7,1051.3 L1564.8,1052.9 L1566,1054.6 L1567.1,1056.2 L1568.3,1057.8 L1569.5,1059.5 L1570.6,1061.1 L1571.8,1062.7 L1572.9,1064.3 L1574.1,1066 L1575.3,1067.6 L1576.5,1069.2 L1577.6,1070.8 L1578.8,1072.4 L1580,1074.1 L1581.2,1075.7 L1582.4,1077.3 L1583.6,1078.9 L1584.8,1080.5 L1585.9,1082.1 L1587.2,1083.7 L1588.4,1085.3 L1589.6,1086.9 L1590.8,1088.5 L1592,1090.1 L1593.2,1091.6 L1594.4,1093.2 L1595.7,1094.8 L1596.9,1096.4 L1598.1,1098 L1599.4,1099.5 L1600.6,1101.1 L1601.9,1102.6 L1603.1,1104.2 L1604.4,1105.8 L1605.6,1107.3 L1606.9,1108.9 L1608.2,1110.4 L1609.5,1111.9 L1610.8,1113.5 L1612,1115 L1613.3,1116.5 L1614.6,1118 L1616,1119.5 L1617.3,1121 L1618.6,1122.5 L1619.9,1124 L1621.3,1125.5 L1622.6,1127 L1623.9,1128.5 L1625.3,1130 L1626.6,1131.4 L1628,1132.9 L1629.4,1134.4 L1630.7,1135.8 L1632.1,1137.3 L1633.5,1138.7 L1634.9,1140.2 L1636.3,1141.6 L1637.7,1143 L1639.1,1144.5 L1640.5,1145.9 L1641.9,1147.3 L1643.3,1148.7 L1644.7,1150.1 L1646.2,1151.5 L1647.6,1152.9 L1649,1154.3 L1650.5,1155.7 L1651.9,1157.1 L1653.4,1158.4 L1654.8,1159.8 L1656.3,1161.2 L1657.8,1162.5 L1659.2,1163.9 L1660.7,1165.2 L1662.2,1166.6 L1663.7,1167.9 L1665.2,1169.3 L1666.6,1170.6 L1668.1,1171.9 L1669.6,1173.2 L1671.1,1174.6 L1672.6,1175.9 L1674.2,1177.2 L1675.7,1178.5 L1677.2,1179.8 L1678.7,1181.1 L1680.2,1182.4 L1681.7,1183.7 L1683.3,1185 L1684.8,1186.3 L1686.3,1187.6 L1687.9,1188.9 L1689.4,1190.1 L1690.9,1191.4 L1692.5,1192.7 L1694,1194 L1695.6,1195.2 L1697.1,1196.5 L1698.7,1197.8 L1700.2,1199 L1701.8,1200.3 L1703.3,1201.5 L1704.9,1202.8 L1706.4,1204 L1708,1205.3 L1709.6,1206.5 L1711.1,1207.8 L1712.7,1209 L1714.3,1210.3 L1715.9,1211.5 L1717.4,1212.7 L1719,1213.9 L1720.6,1215.2 L1722.2,1216.4 L1723.8,1217.6 L1725.3,1218.8 L1726.9,1220 L1728.5,1221.3 L1730.1,1222.5 L1731.7,1223.7 L1733.3,1224.9 L1734.9,1226.1 L1736.5,1227.2 L1738.1,1228.4 L1739.8,1229.6 L1741.4,1230.8 L1743,1232 L1744.6,1233.1 L1746.2,1234.3 L1747.9,1235.5 L1749.5,1236.6 L1751.1,1237.8 L1752.8,1238.9 L1754.4,1240.1 L1756,1241.2 L1757.7,1242.4 L1759.3,1243.5 L1761,1244.6 L1762.6,1245.8 L1764.3,1246.9 L1766,1248 L1767.6,1249.1 L1769.3,1250.2 L1771,1251.3 L1772.6,1252.4 L1774.3,1253.5 L1776,1254.6 L1777.7,1255.6 L1779.4,1256.7 L1781.1,1257.8 L1782.8,1258.8 L1784.5,1259.9 L1786.2,1260.9 L1787.9,1262 L1789.6,1263 L1791.3,1264 L1793,1265.1 L1794.7,1266.1 L1796.5,1267.1 L1798.2,1268.1 L1799.9,1269.1 L1801.7,1270.1 L1803.4,1271 L1805.2,1272 L1806.9,1273 L1808.7,1273.9 L1810.4,1274.9 L1812.2,1275.8 L1814,1276.8 L1815.7,1277.7 L1817.5,1278.6 L1819.3,1279.5 L1821.1,1280.4 L1822.9,1281.3 L1824.6,1282.2 L1826.4,1283.1 L1828.3,1283.9 L1830.1,1284.8 L1831.9,1285.6 L1833.7,1286.5 L1835.5,1287.3 L1837.3,1288.1 L1839.2,1288.9 L1841,1289.7 L1842.8,1290.5 L1844.7,1291.3 L1846.5,1292 L1848.4,1292.8 L1850.2,1293.5 L1852.1,1294.3 L1854,1295 L1855.8,1295.7 L1857.7,1296.4 L1859.6,1297.1 L1861.5,1297.8 L1863.3,1298.4 L1865.2,1299.1 L1867.1,1299.7 L1869,1300.4 L1870.9,1301 L1872.8,1301.6 L1874.7,1302.2 L1876.6,1302.8 L1878.5,1303.4 L1880.5,1304 L1882.4,1304.6 L1884.3,1305.1 L1886.2,1305.7 L1888.2,1306.2 L1890.1,1306.7 L1892,1307.2 L1893.9,1307.8 L1895.9,1308.3 L1897.8,1308.8 L1899.8,1309.2 L1901.7,1309.7 L1903.6,1310.2 L1905.6,1310.6 L1907.5,1311.1 L1909.5,1311.5 L1911.4,1312 L1913.4,1312.4 L1915.3,1312.8 L1917.3,1313.2 L1919.3,1313.6 L1921.2,1314 L1923.2,1314.4 L1925.1,1314.8 L1927.1,1315.2 L1929.1,1315.6 L1931,1315.9 L1933,1316.3 L1935,1316.7 L1936.9,1317 L1938.9,1317.3 L1940.9,1317.7 L1942.9,1318 L1944.8,1318.4 L1946.8,1318.7 L1948.8,1319 L1950.7,1319.3 L1952.7,1319.6 L1954.7,1319.9 L1956.7,1320.2 L1958.7,1320.5 L1960.6,1320.8 L1962.6,1321.1 L1964.6,1321.4 L1966.6,1321.7 L1968.5,1322 L1970.5,1322.3 L1972.5,1322.6 L1974.5,1322.8 L1976.5,1323.1 L1978.5,1323.4 L1980.4,1323.7 L1982.4,1323.9 L1984.4,1324.2 L1986.4,1324.5 L1988.4,1324.7 L1990.3,1325 L1992.3,1325.3 L1994.3,1325.5 L1996.3,1325.8 L1998.3,1326.1 L2000.3,1326.3 L2002.2,1326.6 L2004.2,1326.9 L2006.2,1327.2 L2008.2,1327.4 L2010.2,1327.7 L2012.1,1328 L2014.1,1328.3 L2016.1,1328.5 L2018.1,1328.8 L2020.1,1329.1 L2022,1329.4 L2024,1329.7 L2026,1330 L2028,1330.3 L2030,1330.6 L2031.9,1330.9 L2033.9,1331.2 L2035.9,1331.5 L2037.9,1331.8 L2039.8,1332.1 L2041.8,1332.4 L2043.8,1332.7 L2045.8,1333 L2047.7,1333.3 L2049.7,1333.6 L2051.7,1333.9 L2053.7,1334.3 L2055.6,1334.6 L2057.6,1334.9 L2059.6,1335.1 L2061.6,1335.4 L2063.6,1335.7 L2065.5,1336 L2067.5,1336.3 L2069.5,1336.5 L2071.5,1336.8 L2073.5,1337 L2075.5,1337.3 L2077.4,1337.5 L2079.4,1337.7 L2081.4,1337.9 L2083.4,1338.1 L2085.4,1338.3 L2087.4,1338.4 L2089.4,1338.6 L2091.4,1338.7 L2093.4,1338.9 L2095.4,1339 L2097.4,1339.1 L2099.4,1339.2 L2101.4,1339.2 L2103.4,1339.3 L2105.4,1339.3 L2107.4,1339.3 L2109.4,1339.2 L2111.4,1339.2 L2113.4,1339.1 L2115.4,1339 L2117.4,1338.9 L2119.4,1338.8 L2121.4,1338.7 L2123.3,1338.6 L2125.3,1338.4 L2127.3,1338.2 L2129.3,1338 L2131.3,1337.7 L2133.3,1337.4 L2135.3,1337.1 L2137.2,1336.8 L2139.2,1336.5 L2141.2,1336.1 L2143.1,1335.8 L2145.1,1335.4 L2147.1,1335 L2149,1334.6 L2151,1334.2 L2152.9,1333.8 L2154.9,1333.4 L2156.8,1332.9 L2158.8,1332.5 L2160.8,1332.1 L2162.7,1331.7 L2164.7,1331.2 L2166.6,1330.8 L2168.6,1330.4 L2170.5,1329.9 L2172.5,1329.5 L2174.4,1329.1 L2176.4,1328.7 L2178.4,1328.3 L2180.3,1328 L2182.3,1327.6 L2184.3,1327.3 L2186.2,1327 L2188.2,1326.7 L2190.2,1326.4 L2192.2,1326.1 L2194.1,1325.9 L2195.9,1325.6 L2197.6,1325.4 L2199,1325.2 L2199.5,1325.2" fill="none" stroke="#ff1010" stroke-width="4.5" stroke-linejoin="round"/>
<path d="M1741,117 H1901" stroke="#1c1c1c" stroke-width="5"/>
<path d="M1741,198 H1901" stroke="#ff1a1a" stroke-width="5"/>
<text x="1917" y="138.5" font-size="68">SB</text>
<text x="1917" y="222.8" font-size="68">SBCCr</text>
<text x="478" y="1484" font-size="54" text-anchor="middle">100</text>
<text x="765.7" y="1484" font-size="54" text-anchor="middle">200</text>
<text x="1053.3" y="1484" font-size="54" text-anchor="middle">300</text>
<text x="1341" y="1484" font-size="54" text-anchor="middle">400</text>
<text x="1628.7" y="1484" font-size="54" text-anchor="middle">500</text>
<text x="1916.3" y="1484" font-size="54" text-anchor="middle">600</text>
<text x="2204" y="1484" font-size="54" text-anchor="middle">700</text>
<text x="258" y="1305.2" font-size="54" text-anchor="end">95</text>
<text x="258" y="1058" font-size="54" text-anchor="end">96</text>
<text x="258" y="810.8" font-size="54" text-anchor="end">97</text>
<text x="258" y="563.6" font-size="54" text-anchor="end">98</text>
<text x="258" y="316.4" font-size="54" text-anchor="end">99</text>
<text x="258" y="69.2" font-size="54" text-anchor="end">100</text>
<rect x="2236" y="1452" width="12" height="28" fill="#1a1022"/>
<text x="495" y="181" font-size="55">100.00°C</text>
<text x="550" y="321" font-size="55">141.11°C</text>
<text x="734" y="379" font-size="55">196.70°C</text>
<text x="876" y="515" font-size="55">251.91°C</text>
<text x="1129" y="614" font-size="55">343.03°C</text>
<text x="1327" y="197.5" font-size="55">433.04°C</text>
<text x="1912.5" y="570.6" font-size="55">610.68°C</text>
<text x="1952.6" y="702.4" font-size="55">670.50°C</text>
<text x="1780.6" y="1277" font-size="55">610.87°C</text>
<text x="1019" y="1598" font-size="68" textLength="459" lengthAdjust="spacing">Temperature/°C</text>
<text transform="translate(88,976) rotate(-90)" x="0" y="0" font-size="68" textLength="540" lengthAdjust="spacingAndGlyphs">Weight loss ratio/%</text>
</svg></body></html>
